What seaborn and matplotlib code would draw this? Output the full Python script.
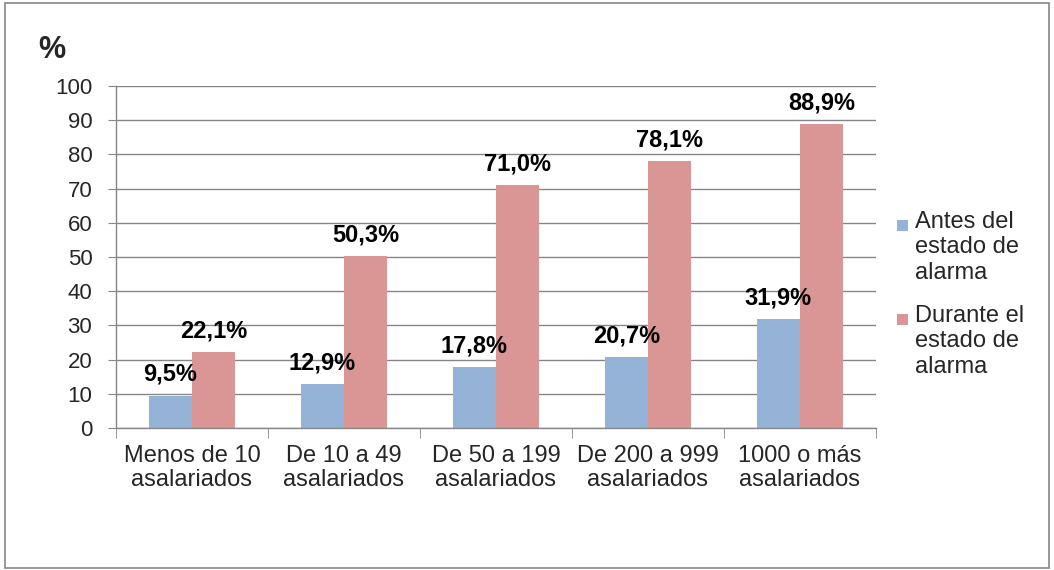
import numpy as np
import pandas as pd
import matplotlib
matplotlib.use("Agg")
import matplotlib.pyplot as plt
import seaborn as sns
from matplotlib.patches import Rectangle

# --- data ---
categorias = ["Menos de 10\nasalariados", "De 10 a 49\nasalariados",
              "De 50 a 199\nasalariados", "De 200 a 999\nasalariados",
              "1000 o más\nasalariados"]
series = ["Antes del\nestado de\nalarma", "Durante el\nestado de\nalarma"]
antes = [9.5, 12.9, 17.8, 20.7, 31.9]
durante = [22.1, 50.3, 71.0, 78.1, 88.9]
colores = ["#95B3D7", "#D99694"]

df = pd.DataFrame({
    "categoria": categorias * 2,
    "serie": [series[0]] * 5 + [series[1]] * 5,
    "valor": antes + durante,
})

sns.set_style("white")
plt.rcParams["font.family"] = ["Liberation Sans", "DejaVu Sans"]

fig = plt.figure(figsize=(10.54, 5.70), dpi=100)
ax = fig.add_axes([0.110, 0.249, 0.721, 0.600])

sns.barplot(data=df, x="categoria", y="valor", hue="serie", order=categorias,
            hue_order=series, palette=colores, width=0.57, saturation=1,
            linewidth=0, ax=ax, legend=False)

# value labels
for cont, vals in zip(ax.containers, [antes, durante]):
    ax.bar_label(cont, labels=[f"{v:.1f}%".replace(".", ",") for v in vals],
                 padding=7, fontsize=17, fontweight="bold", color="black")

gris = "#868686"
ax.set_ylim(0, 100)
ax.set_xlim(-0.5, 4.5)
ax.set_yticks(np.arange(0, 101, 10))
ax.yaxis.grid(True, color=gris, linewidth=1.0)
ax.set_axisbelow(True)
ax.set_xlabel("")
ax.set_ylabel("")
for s in ["top", "right"]:
    ax.spines[s].set_visible(False)
for s in ["left", "bottom"]:
    ax.spines[s].set_color(gris)
    ax.spines[s].set_linewidth(1.0)

ax.tick_params(axis="y", which="major", direction="out", length=6, color=gris,
               labelsize=16, pad=11, left=True)
ax.tick_params(axis="x", which="major", length=0, labelsize=17, pad=12)
for lbl in ax.get_xticklabels():
    lbl.set_linespacing(1.15)
ax.set_xticks(np.arange(-0.5, 5.0, 1.0), minor=True)
ax.tick_params(axis="x", which="minor", direction="out", length=7, color=gris,
               bottom=True)

fig.text(0.036, 0.912, "%", fontsize=22, fontweight="bold", ha="left", va="center")

# legend (Excel style: square aligned with first text line)
for i, (serie, color) in enumerate(zip(series, colores)):
    y_top = 0.630 - i * 0.165
    fig.patches.append(Rectangle((0.851, y_top - 0.036), 0.0105, 0.0195,
                                 transform=fig.transFigure, facecolor=color,
                                 edgecolor="none"))
    fig.text(0.868, y_top, serie, fontsize=17, ha="left", va="top",
             linespacing=1.2)

fig.patches.append(Rectangle((0.005, 0.004), 0.990, 0.990, transform=fig.transFigure,
                             fill=False, edgecolor=gris, linewidth=1.2))

fig.savefig("out.png", dpi=100)
